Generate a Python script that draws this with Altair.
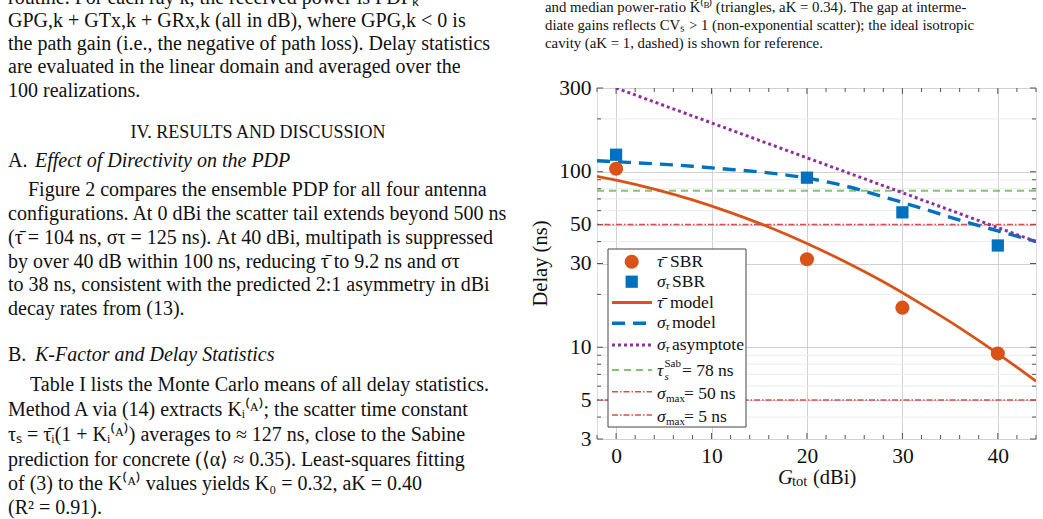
import altair as alt
import pandas as pd

# ---------------- data ----------------
gains = [0, 20, 30, 40]
tau_sbr = [104, 31.7, 16.8, 9.2]
sigma_sbr = [125, 92.5, 58.7, 38]

model_x = [-2, 0, 4, 8, 12, 16, 20, 24, 28, 32, 36, 40, 44]
tau_model = [94.1, 89.5, 79.6, 69.1, 58.5, 48.4, 39.0, 30.7, 23.6, 17.6, 12.9, 9.2, 6.4]
sigma_model = [115.5, 114, 111, 107.5, 103, 98.5, 92, 83, 72, 62, 53, 46, 40]

asym_x = [0, 44]
asym_y = [300, 40]

tau_sabine = 78
sigma_max = [50, 5]

x_ticks = [0, 10, 20, 30, 40]
x_minor = [-2, 2, 4, 6, 8, 12, 14, 16, 18, 22, 24, 26, 28, 32, 34, 36, 38, 42, 44]
y_ticks = [3, 5, 10, 30, 50, 100, 300]
y_minor = [4, 6, 7, 8, 9, 20, 40, 60, 70, 80, 90, 200]

left_text = [
    "routine. For each ray k, the received power is PDPₖ =",
    "GPG,k + GTx,k + GRx,k (all in dB), where GPG,k < 0 is",
    "the path gain (i.e., the negative of path loss). Delay statistics",
    "are evaluated in the linear domain and averaged over the",
    "100 realizations.",
]
para_a = [
    "Figure 2 compares the ensemble PDP for all four antenna",
    "configurations. At 0 dBi the scatter tail extends beyond 500 ns",
    "(τ̄ = 104 ns, στ = 125 ns). At 40 dBi, multipath is suppressed",
    "by over 40 dB within 100 ns, reducing τ̄ to 9.2 ns and στ",
    "to 38 ns, consistent with the predicted 2:1 asymmetry in dBi",
    "decay rates from (13).",
]
para_b = [
    "Table I lists the Monte Carlo means of all delay statistics.",
    "Method A via (14) extracts Kᵢ⁽ᴬ⁾; the scatter time constant",
    "τₛ = τ̄ᵢ(1 + Kᵢ⁽ᴬ⁾) averages to ≈ 127 ns, close to the Sabine",
    "prediction for concrete (⟨α⟩ ≈ 0.35). Least-squares fitting",
    "of (3) to the K⁽ᴬ⁾ values yields K₀ = 0.32, aK = 0.40",
    "(R² = 0.91).",
]
right_text = [
    "and median power-ratio K̃⁽ᴮ⁾ (triangles, aK = 0.34). The gap at interme-",
    "diate gains reflects CVₛ > 1 (non-exponential scatter); the ideal isotropic",
    "cavity (aK = 1, dashed) is shown for reference.",
]

# ---------------- style ----------------
SERIF = "Liberation Serif"
ORANGE = "#D95319"
BLUE = "#0072BD"
PURPLE = "#8E2F9E"
GREEN = "#6DBA5A"
RED = "#D63A3A"
W, H = 439, 351

xscale = alt.Scale(domain=[-2, 44], nice=False, zero=False)
yscale = alt.Scale(type="log", domain=[3, 300], nice=False)
xaxis = alt.Axis(values=x_ticks, grid=True, gridColor="#d2d2d2", ticks=False, domain=False,
                 labelFont=SERIF, labelFontSize=21.5, labelColor="#111", labelPadding=6, title=None)
yaxis = alt.Axis(values=y_ticks, grid=True, gridColor="#d2d2d2", ticks=False, domain=False, format="d",
                 labelFont=SERIF, labelFontSize=21.5, labelColor="#111", labelPadding=6, title=None)


def X(f):
    return alt.X(f, type="quantitative", scale=xscale, axis=xaxis)


def Y(f):
    return alt.Y(f, type="quantitative", scale=yscale, axis=yaxis)


one = pd.DataFrame({"k": [0]})


def txt(s, x, y, size, style="normal", align="left", angle=0, color="#111"):
    return alt.Chart(one).mark_text(text=s, align=align, baseline="middle", font=SERIF,
                                    fontSize=size, fontStyle=style, angle=angle, color=color).encode(
        x=alt.value(x), y=alt.value(y))


layers = []

# minor grid (y)
ymin_df = pd.DataFrame({"v": y_minor})
layers.append(alt.Chart(ymin_df).mark_rule(color="#ebebeb", strokeWidth=1).encode(y=Y("v")))

# inner ticks
ymaj_df = pd.DataFrame({"v": y_ticks})
xmaj_df = pd.DataFrame({"v": x_ticks})
xmin_df = pd.DataFrame({"v": x_minor})
tick_c = "#555"
layers += [
    alt.Chart(ymaj_df).mark_rule(color=tick_c).encode(y=Y("v"), x=alt.value(0), x2=alt.value(6)),
    alt.Chart(ymaj_df).mark_rule(color=tick_c).encode(y=Y("v"), x=alt.value(W - 6), x2=alt.value(W)),
    alt.Chart(ymin_df).mark_rule(color=tick_c).encode(y=Y("v"), x=alt.value(0), x2=alt.value(4)),
    alt.Chart(ymin_df).mark_rule(color=tick_c).encode(y=Y("v"), x=alt.value(W - 4), x2=alt.value(W)),
    alt.Chart(xmaj_df).mark_rule(color=tick_c).encode(x=X("v"), y=alt.value(H - 6), y2=alt.value(H)),
    alt.Chart(xmaj_df).mark_rule(color=tick_c).encode(x=X("v"), y=alt.value(0), y2=alt.value(6)),
    alt.Chart(xmin_df).mark_rule(color=tick_c).encode(x=X("v"), y=alt.value(H - 4), y2=alt.value(H)),
    alt.Chart(xmin_df).mark_rule(color=tick_c).encode(x=X("v"), y=alt.value(0), y2=alt.value(4)),
]

# horizontal reference lines
layers.append(alt.Chart(pd.DataFrame({"v": [tau_sabine]})).mark_rule(
    color=GREEN, strokeWidth=2, strokeDash=[7, 5], opacity=0.85).encode(y=Y("v")))
layers.append(alt.Chart(pd.DataFrame({"v": sigma_max})).mark_rule(
    color=RED, strokeWidth=1.6, strokeDash=[6, 2, 1.5, 2], opacity=0.9).encode(y=Y("v")))

# model curves
mdf = pd.DataFrame({"x": model_x, "tau": tau_model, "sig": sigma_model})
layers.append(alt.Chart(mdf).mark_line(color=ORANGE, strokeWidth=2.8, interpolate="monotone", clip=True)
              .encode(x=X("x"), y=Y("tau")))
layers.append(alt.Chart(mdf).mark_line(color=BLUE, strokeWidth=3.4, strokeDash=[13, 8],
                                       interpolate="monotone", clip=True)
              .encode(x=X("x"), y=Y("sig")))
adf = pd.DataFrame({"x": asym_x, "y": asym_y})
layers.append(alt.Chart(adf).mark_line(color=PURPLE, strokeWidth=3, strokeDash=[3, 3], clip=True)
              .encode(x=X("x"), y=Y("y")))

# SBR points
pdf = pd.DataFrame({"x": gains, "tau": tau_sbr, "sig": sigma_sbr})
layers.append(alt.Chart(pdf).mark_circle(color=ORANGE, opacity=1, size=200).encode(x=X("x"), y=Y("tau")))
layers.append(alt.Chart(pdf).mark_square(color=BLUE, opacity=1, size=150).encode(x=X("x"), y=Y("sig")))

# ---------------- legend ----------------
layers.append(alt.Chart(one).mark_rect(fill="white", stroke="#444", strokeWidth=1).encode(
    x=alt.value(11), x2=alt.value(149), y=alt.value(161), y2=alt.value(339)))
layers.append(alt.Chart(one).mark_circle(color=ORANGE, opacity=1).encode(
    x=alt.value(34.7), y=alt.value(173.7), size=alt.value(200)))
layers.append(alt.Chart(one).mark_square(color=BLUE, opacity=1).encode(
    x=alt.value(34.7), y=alt.value(193.7), size=alt.value(150)))


def leg_line(y, color, width, dash=None, opacity=1.0):
    kw = dict(color=color, strokeWidth=width, opacity=opacity)
    if dash:
        kw["strokeDash"] = dash
    return alt.Chart(one).mark_rule(**kw).encode(x=alt.value(15), x2=alt.value(55), y=alt.value(y))


layers += [
    leg_line(214.5, ORANGE, 2.8),
    leg_line(235.3, BLUE, 3.4, [13, 8]),
    leg_line(257, PURPLE, 3, [3, 3]),
    leg_line(282, GREEN, 2, [7, 5], 0.85),
    leg_line(303.7, RED, 1.6, [6, 2, 1.5, 2], 0.9),
    leg_line(327, RED, 1.6, [6, 2, 1.5, 2], 0.9),
]

LF = 17.5
SF = 11
layers += [
    txt("τ̄", 60, 173.7, LF, "italic"), txt("SBR", 73, 173.7, LF),
    txt("σ", 60, 193.7, LF, "italic"), txt("τ", 68.5, 197.5, SF, "italic"), txt("SBR", 75, 193.7, LF),
    txt("τ̄", 60, 215, LF, "italic"), txt("model", 73, 215, LF),
    txt("σ", 60, 235.3, LF, "italic"), txt("τ", 68.5, 239, SF, "italic"), txt("model", 75, 235.3, LF),
    txt("σ", 60, 257, LF, "italic"), txt("τ", 68.5, 260.8, SF, "italic"), txt("asymptote", 75, 257, LF),
    txt("τ", 60, 283, LF, "italic"), txt("Sab", 67.5, 276, SF), txt("s", 67.5, 289, SF, "italic"),
    txt("= 78 ns", 85, 283, LF),
    txt("σ", 60, 306, LF, "italic"), txt("max", 69, 311, SF), txt("= 50 ns", 87, 306, LF),
    txt("σ", 60, 328.7, LF, "italic"), txt("max", 69, 334, SF), txt("= 5 ns", 87, 328.7, LF),
]

# ---------------- axis titles ----------------
layers += [
    txt("Delay (ns)", -55.7, 175.5, 20.5, angle=270, align="center"),
    txt("G", 181, 390, 20.5, "italic"),
    txt("tot", 195, 394, 14.5),
    txt("(dBi)", 216, 390, 20.5),
]

# ---------------- surrounding page text ----------------
LX = 8 - 597
BF = 20
for i, s in enumerate(left_text):
    layers.append(txt(s, LX, [-2, 21, 44, 67, 91][i] - 88, BF))
layers.append(txt("IV. RESULTS AND DISCUSSION", 258 - 597, 133 - 88, 18, align="center"))
layers.append(txt("A.", LX, 161 - 88, BF))
layers.append(txt("Effect of Directivity on the PDP", 35 - 597, 161 - 88, BF, "italic"))
for i, s in enumerate(para_a):
    x0 = 28 - 597 if i == 0 else LX
    layers.append(txt(s, x0, [190, 213.5, 237.5, 261.5, 285, 309][i] - 88, BF))
layers.append(txt("B.", LX, 355 - 88, BF))
layers.append(txt("K-Factor and Delay Statistics", 35 - 597, 355 - 88, BF, "italic"))
for i, s in enumerate(para_b):
    x0 = 30 - 597 if i == 0 else LX
    layers.append(txt(s, x0, [385, 410, 435, 460, 484, 508][i] - 88, BF))
for i, s in enumerate(right_text):
    layers.append(txt(s, 545 - 597, [8, 26, 44][i] - 88, 14.8))

chart = alt.layer(*layers).properties(
    width=W, height=H,
    autosize=alt.AutoSizeParams(type="none"),
    padding={"left": 597, "top": 88, "right": 7, "bottom": 80},
).configure_view(stroke="#3a3a3a", strokeWidth=1).configure(background="white")

chart.save("out.html", embed_options={"renderer": "svg", "actions": False})
